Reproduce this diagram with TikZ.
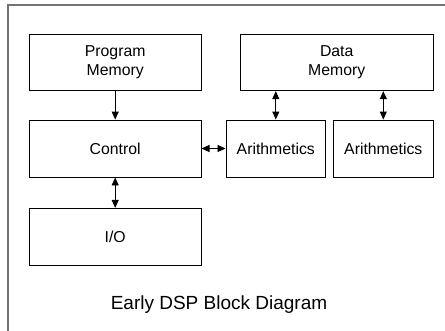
\documentclass[tikz,border=0pt]{standalone}
\usepackage{fontspec}
\setmainfont{Liberation Sans}
\usetikzlibrary{arrows.meta}
\begin{document}
\begin{tikzpicture}[x=1pt,y=-1pt,
  blk/.style={draw=black,line width=0.9pt,inner sep=0pt,align=center,
    font=\fontsize{15.8}{19.3}\selectfont},
  conn/.style={line width=0.9pt,{Triangle[length=8pt,width=7pt]}-{Triangle[length=8pt,width=7pt]}},
  conn1/.style={line width=0.9pt,-{Triangle[length=8pt,width=7pt]}}]
\useasboundingbox (0,0) rectangle (445,330);
\draw[line width=1.6pt,color=black!55] (446,5) -- (8,5) -- (8,331);
\node[blk,minimum width=171.7pt,minimum height=56.7pt] (pm) at (115.2,62.3) {Program\\Memory};
\node[blk,minimum width=193pt,minimum height=56.7pt] (dm) at (336.7,62.3) {Data\\Memory};
\node[blk,minimum width=171.7pt,minimum height=57pt] (ctl) at (115.2,148.5) {Control};
\node[blk,minimum width=99.7pt,minimum height=57pt] (a1) at (275.8,148.5) {Arithmetics};
\node[blk,minimum width=100pt,minimum height=57pt] (a2) at (383.3,148.5) {Arithmetics};
\node[blk,minimum width=171.7pt,minimum height=57.4pt] (io) at (115.2,237) {I/O};
\node[font=\fontsize{19}{22}\selectfont] (cap) at (219,305) {Early DSP Block Diagram};
\draw[conn1] (pm.south) -- (ctl.north);
\draw[conn] (ctl.east) -- (a1.west);
\draw[conn] (dm.south -| a1.north) -- (a1.north);
\draw[conn] (dm.south -| a2.north) -- (a2.north);
\draw[conn] (ctl.south) -- (io.north);
\end{tikzpicture}
\end{document}
